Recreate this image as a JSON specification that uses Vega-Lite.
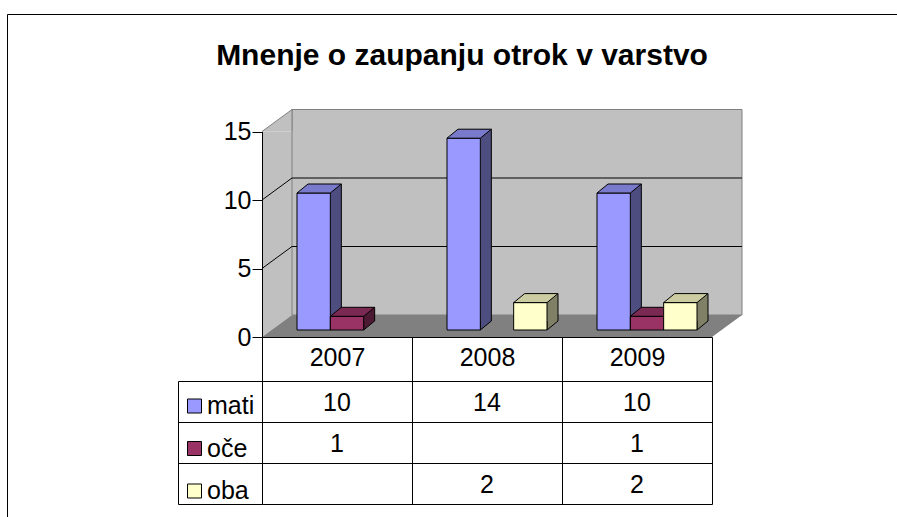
{
  "$schema": "https://vega.github.io/schema/vega-lite/v6.json",
  "width": 890,
  "height": 503,
  "autosize": {"type": "none"},
  "padding": {"left": 7, "top": 14, "right": 0, "bottom": 0},
  "background": "white",
  "title": {"text": "Mnenje o zaupanju otrok v varstvo", "font": "Liberation Sans", "fontSize": 30, "fontWeight": "bold", "color": "black", "anchor": "middle", "frame": "group", "baseline": "alphabetic", "offset": -81, "dx": 10},
  "data": {"values": [
    {"year": 2007, "series": "mati", "value": 10},
    {"year": 2007, "series": "oče", "value": 1},
    {"year": 2008, "series": "mati", "value": 14},
    {"year": 2008, "series": "oba", "value": 2},
    {"year": 2009, "series": "mati", "value": 10},
    {"year": 2009, "series": "oče", "value": 1},
    {"year": 2009, "series": "oba", "value": 2}
  ]},
  "config": {
    "view": {"stroke": "black", "strokeWidth": 1},
    "font": "Liberation Sans",
    "axis": {"labelFont": "Liberation Sans", "labelFontSize": 25, "labelColor": "black", "zindex": 1},
    "legend": {"labelFont": "Liberation Sans"}
  },
  "resolve": {"scale": {"x": "independent", "y": "independent"}, "axis": {"x": "independent", "y": "independent"}},
  "layer": [
    {
      "layer": [
        {"data": {"values": [{}]},
         "mark": {"type": "rect", "fill": "#C0C0C0", "opacity": 1, "x2Offset": 30, "y2Offset": -22},
         "encoding": {
           "x": {"datum": 2006.5, "type": "quantitative", "scale": {"domain": [2006.5, 2009.5], "range": [255, 705], "nice": false, "zero": false}, "axis": null},
           "x2": {"datum": 2006.5},
           "y": {"datum": 15, "type": "quantitative", "scale": {"domain": [0, 15], "range": [323, 117.5], "nice": false, "zero": true},
                 "axis": {"orient": "left", "offset": -255, "values": [0, 5, 10, 15], "title": null, "domain": true, "domainColor": "black", "domainWidth": 1, "ticks": true, "tickSize": 10, "tickColor": "black", "tickWidth": 1, "grid": false, "labelPadding": 1, "labelFontSize": 25, "labelColor": "black", "zindex": 1}},
           "y2": {"datum": 0}}},
        {"data": {"values": [{}]},
         "mark": {"type": "point", "shape": "M 0 -22 L 0 0 L 30 -22 Z", "size": 4, "filled": true, "fill": "#C0C0C0", "strokeWidth": 0, "opacity": 1},
         "encoding": {"x": {"datum": 2006.5, "type": "quantitative", "axis": null}, "y": {"datum": 0, "type": "quantitative"}}},
        {"data": {"values": [{}]},
         "mark": {"type": "rect", "fill": "#C0C0C0", "stroke": "#808080", "strokeWidth": 1, "opacity": 1, "xOffset": 30, "x2Offset": 30, "yOffset": -22, "y2Offset": -22},
         "encoding": {"x": {"datum": 2006.5, "type": "quantitative", "axis": null}, "x2": {"datum": 2009.5}, "y": {"datum": 15, "type": "quantitative"}, "y2": {"datum": 0}}},
        {"data": {"values": [{}]},
         "mark": {"type": "rect", "fill": "#808080", "opacity": 1, "xOffset": 30, "yOffset": -22},
         "encoding": {"x": {"datum": 2006.5, "type": "quantitative", "axis": null}, "x2": {"datum": 2009.5}, "y": {"datum": 0, "type": "quantitative"}, "y2": {"datum": 0}}},
        {"data": {"values": [{}]},
         "mark": {"type": "point", "shape": "M 30 0 L 0 0 L 30 -22 Z", "size": 4, "filled": true, "fill": "#808080", "strokeWidth": 0, "opacity": 1},
         "encoding": {"x": {"datum": 2006.5, "type": "quantitative", "axis": null}, "y": {"datum": 0, "type": "quantitative"}}},
        {"data": {"values": [{}]},
         "mark": {"type": "point", "shape": "M 0 0 L 30 -22 L 0 -22 Z", "size": 4, "filled": true, "fill": "#808080", "strokeWidth": 0, "opacity": 1},
         "encoding": {"x": {"datum": 2009.5, "type": "quantitative", "axis": null}, "y": {"datum": 0, "type": "quantitative"}}},
        {"data": {"values": [{}]},
         "mark": {"type": "rule", "stroke": "black", "strokeWidth": 1, "opacity": 1, "xOffset": 30, "x2Offset": 30, "yOffset": -22},
         "encoding": {"x": {"datum": 2006.5, "type": "quantitative", "axis": null}, "x2": {"datum": 2009.5}, "y": {"datum": 5, "type": "quantitative"}}},
        {"data": {"values": [{}]},
         "mark": {"type": "rule", "stroke": "black", "strokeWidth": 1, "opacity": 1, "xOffset": 30, "x2Offset": 30, "yOffset": -22},
         "encoding": {"x": {"datum": 2006.5, "type": "quantitative", "axis": null}, "x2": {"datum": 2009.5}, "y": {"datum": 10, "type": "quantitative"}}},
        {"data": {"values": [{}]},
         "mark": {"type": "point", "shape": "M 0 0 L 30 -22", "size": 4, "filled": false, "stroke": "black", "strokeWidth": 1, "opacity": 1},
         "encoding": {"x": {"datum": 2006.5, "type": "quantitative", "axis": null}, "y": {"datum": 5, "type": "quantitative"}}},
        {"data": {"values": [{}]},
         "mark": {"type": "point", "shape": "M 0 0 L 30 -22", "size": 4, "filled": false, "stroke": "black", "strokeWidth": 1, "opacity": 1},
         "encoding": {"x": {"datum": 2006.5, "type": "quantitative", "axis": null}, "y": {"datum": 10, "type": "quantitative"}}},
        {"data": {"values": [{}]},
         "mark": {"type": "point", "shape": "M 30 0 L 30 -22 L 0 0", "size": 4, "filled": true, "fill": "#C0C0C0", "stroke": "#808080", "strokeWidth": 1, "opacity": 1},
         "encoding": {"x": {"datum": 2006.5, "type": "quantitative", "axis": null}, "y": {"datum": 15, "type": "quantitative"}}},
        {
          "transform": [{"filter": {"field": "series", "equal": "mati"}}],
          "layer": [
            {"mark": {"type": "rect", "fill": "#4D4D80", "opacity": 1, "xOffset": -6.67, "x2Offset": 4.33, "yOffset": -16, "y2Offset": -16},
             "encoding": {"x": {"field": "year", "type": "quantitative", "axis": null}, "x2": {"field": "year"}, "y": {"field": "value", "type": "quantitative"}, "y2": {"datum": 0}}},
            {"mark": {"type": "point", "shape": "M 0 -9 L 0 0 L 11 -9", "size": 4, "filled": true, "fill": "#4D4D80", "stroke": "black", "strokeWidth": 1, "opacity": 1, "xOffset": -6.67, "yOffset": -7},
             "encoding": {"x": {"field": "year", "type": "quantitative", "axis": null}, "y": {"datum": 0, "type": "quantitative"}}},
            {"mark": {"type": "rule", "stroke": "black", "strokeWidth": 1, "opacity": 1, "xOffset": 4.33, "yOffset": -16, "y2Offset": -16},
             "encoding": {"x": {"field": "year", "type": "quantitative", "axis": null}, "y": {"field": "value", "type": "quantitative"}, "y2": {"datum": 0}}},
            {"mark": {"type": "rect", "stroke": "black", "strokeWidth": 1, "opacity": 1, "xOffset": -40, "x2Offset": -6.67, "yOffset": -7, "y2Offset": -7},
             "encoding": {"x": {"field": "year", "type": "quantitative", "axis": null}, "x2": {"field": "year"}, "y": {"field": "value", "type": "quantitative"}, "y2": {"datum": 0},
               "fill": {"field": "series", "type": "nominal", "scale": {"domain": ["mati", "oče", "oba"], "range": ["#9999FF", "#993366", "#FFFFCC"]},
                        "legend": {"orient": "none", "legendX": 175, "legendY": 379.5, "title": null, "symbolType": "square", "symbolSize": 196, "symbolStrokeColor": "black", "symbolStrokeWidth": 1, "symbolOpacity": 1, "labelFontSize": 25, "labelColor": "black", "labelOffset": 0, "rowPadding": 16.5, "padding": 0, "labelLimit": 0}}}},
            {"mark": {"type": "point", "shape": "M 0 0 L 11 -9 L 44.33 -9 L 33.33 0 Z", "size": 4, "filled": true, "fill": "#7A7ACC", "stroke": "black", "strokeWidth": 1, "opacity": 1, "xOffset": -40, "yOffset": -7},
             "encoding": {"x": {"field": "year", "type": "quantitative", "axis": null}, "y": {"field": "value", "type": "quantitative"}}}
          ]
        },
        {
          "transform": [{"filter": {"field": "series", "equal": "oče"}}],
          "layer": [
            {"mark": {"type": "rect", "fill": "#4D1A33", "opacity": 1, "xOffset": 26.67, "x2Offset": 37.67, "yOffset": -16, "y2Offset": -16},
             "encoding": {"x": {"field": "year", "type": "quantitative", "axis": null}, "x2": {"field": "year"}, "y": {"field": "value", "type": "quantitative"}, "y2": {"datum": 0}}},
            {"mark": {"type": "point", "shape": "M 0 -9 L 0 0 L 11 -9", "size": 4, "filled": true, "fill": "#4D1A33", "stroke": "black", "strokeWidth": 1, "opacity": 1, "xOffset": 26.67, "yOffset": -7},
             "encoding": {"x": {"field": "year", "type": "quantitative", "axis": null}, "y": {"datum": 0, "type": "quantitative"}}},
            {"mark": {"type": "rule", "stroke": "black", "strokeWidth": 1, "opacity": 1, "xOffset": 37.67, "yOffset": -16, "y2Offset": -16},
             "encoding": {"x": {"field": "year", "type": "quantitative", "axis": null}, "y": {"field": "value", "type": "quantitative"}, "y2": {"datum": 0}}},
            {"mark": {"type": "rect", "stroke": "black", "strokeWidth": 1, "opacity": 1, "xOffset": -6.67, "x2Offset": 26.67, "yOffset": -7, "y2Offset": -7},
             "encoding": {"x": {"field": "year", "type": "quantitative", "axis": null}, "x2": {"field": "year"}, "y": {"field": "value", "type": "quantitative"}, "y2": {"datum": 0},
               "fill": {"field": "series", "type": "nominal", "scale": {"domain": ["mati", "oče", "oba"], "range": ["#9999FF", "#993366", "#FFFFCC"]}}}},
            {"mark": {"type": "point", "shape": "M 0 0 L 11 -9 L 44.33 -9 L 33.33 0 Z", "size": 4, "filled": true, "fill": "#7A2952", "stroke": "black", "strokeWidth": 1, "opacity": 1, "xOffset": -6.67, "yOffset": -7},
             "encoding": {"x": {"field": "year", "type": "quantitative", "axis": null}, "y": {"field": "value", "type": "quantitative"}}}
          ]
        },
        {
          "transform": [{"filter": {"field": "series", "equal": "oba"}}],
          "layer": [
            {"mark": {"type": "rect", "fill": "#808066", "opacity": 1, "xOffset": 60, "x2Offset": 71, "yOffset": -16, "y2Offset": -16},
             "encoding": {"x": {"field": "year", "type": "quantitative", "axis": null}, "x2": {"field": "year"}, "y": {"field": "value", "type": "quantitative"}, "y2": {"datum": 0}}},
            {"mark": {"type": "point", "shape": "M 0 -9 L 0 0 L 11 -9", "size": 4, "filled": true, "fill": "#808066", "stroke": "black", "strokeWidth": 1, "opacity": 1, "xOffset": 60, "yOffset": -7},
             "encoding": {"x": {"field": "year", "type": "quantitative", "axis": null}, "y": {"datum": 0, "type": "quantitative"}}},
            {"mark": {"type": "rule", "stroke": "black", "strokeWidth": 1, "opacity": 1, "xOffset": 71, "yOffset": -16, "y2Offset": -16},
             "encoding": {"x": {"field": "year", "type": "quantitative", "axis": null}, "y": {"field": "value", "type": "quantitative"}, "y2": {"datum": 0}}},
            {"mark": {"type": "rect", "stroke": "black", "strokeWidth": 1, "opacity": 1, "xOffset": 26.67, "x2Offset": 60, "yOffset": -7, "y2Offset": -7},
             "encoding": {"x": {"field": "year", "type": "quantitative", "axis": null}, "x2": {"field": "year"}, "y": {"field": "value", "type": "quantitative"}, "y2": {"datum": 0},
               "fill": {"field": "series", "type": "nominal", "scale": {"domain": ["mati", "oče", "oba"], "range": ["#9999FF", "#993366", "#FFFFCC"]}}}},
            {"mark": {"type": "point", "shape": "M 0 0 L 11 -9 L 44.33 -9 L 33.33 0 Z", "size": 4, "filled": true, "fill": "#CCCCA3", "stroke": "black", "strokeWidth": 1, "opacity": 1, "xOffset": 26.67, "yOffset": -7},
             "encoding": {"x": {"field": "year", "type": "quantitative", "axis": null}, "y": {"field": "value", "type": "quantitative"}}}
          ]
        }
      ]
    },
    {
      "mark": {"type": "text", "fontSize": 25, "font": "Liberation Sans", "fill": "black", "baseline": "middle", "align": "center", "dy": 1},
      "encoding": {
        "x": {"field": "year", "type": "ordinal", "scale": {"domain": [2007, 2008, 2009], "range": [255, 705], "paddingInner": 0, "paddingOuter": 0},
              "axis": {"orient": "bottom", "offset": -180, "title": null, "domain": true, "domainColor": "black", "domainWidth": 1, "ticks": true, "tickBand": "extent", "tickSize": 167, "tickColor": "black", "tickWidth": 1, "grid": false, "labelPadding": -159, "labelAngle": 0, "labelFontSize": 25, "labelColor": "black", "zindex": 1}},
        "y": {"field": "series", "type": "nominal", "scale": {"domain": ["mati", "oče", "oba"], "range": [367, 490], "paddingInner": 0, "paddingOuter": 0},
              "axis": {"orient": "left", "offset": -171, "title": null, "domain": true, "domainColor": "black", "ticks": true, "tickBand": "extent", "tickSize": -84, "tickColor": "black", "grid": true, "gridColor": "black", "gridOpacity": 1, "labels": false, "zindex": 1}},
        "text": {"field": "value", "type": "quantitative"}
      }
    }
  ]
}
